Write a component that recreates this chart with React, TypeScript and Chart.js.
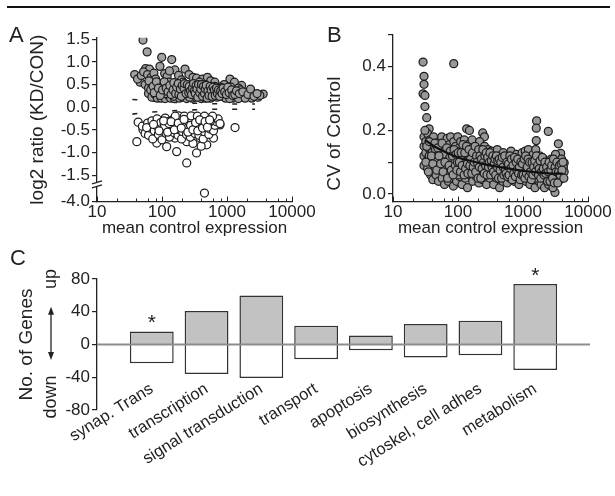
import React, { useEffect, useRef } from 'react';
import { Chart, registerables } from 'chart.js';
Chart.register(...registerables);

const FONT = "'Liberation Sans', Arial, Helvetica, sans-serif";
const INK = '#222';

// ---------- Panel A: log2 ratio vs mean control expression ----------
const aUpPoints: [number, number][] = [
  [51,1.48],[59,1.22],[99,1.1],[141,1.05],[38,0.72],[46,0.55],[56,0.85],[64,0.84],[93,0.9],[158,0.82],
  [226,0.84],[42,0.62],[48,0.7],[52,0.78],[60,0.72],[68,0.66],[72,0.58],[55,0.5],[66,0.48],[75,0.75],
  [80,0.62],[85,0.5],[110,0.74],[120,0.68],[130,0.8],[180,0.7],[200,0.6],[260,0.72],[300,0.66],[340,0.64],
  [420,0.62],[500,0.66],[560,0.58],[650,0.55],[1110,0.62],[1300,0.55],[1680,0.48],[3600,0.29],[2500,0.22],[1500,0.42],
  [900,0.5],[800,0.44],
  [62,0.42],[62,0.3],[70,0.36],[70,0.22],[70,0.5],[78,0.44],[78,0.28],[85,0.38],[85,0.2],[90,0.46],
  [90,0.3],[97,0.52],[97,0.34],[97,0.2],[105,0.42],[105,0.27],[112,0.48],[112,0.36],[112,0.19],[120,0.4],
  [120,0.3],[128,0.55],[128,0.44],[128,0.24],[135,0.38],[135,0.2],[145,0.5],[145,0.32],[145,0.42],[155,0.28],
  [155,0.46],[155,0.19],[165,0.36],[165,0.52],[175,0.42],[175,0.25],[175,0.32],[185,0.48],[185,0.38],[185,0.2],
  [195,0.3],[195,0.44],[210,0.55],[210,0.36],[210,0.22],[225,0.4],[225,0.28],[225,0.48],[240,0.34],[240,0.19],
  [240,0.44],[255,0.5],[255,0.38],[255,0.26],[270,0.3],[270,0.42],[290,0.36],[290,0.2],[290,0.5],[310,0.28],
  [310,0.44],[330,0.38],[330,0.22],[350,0.46],[350,0.32],[375,0.4],[375,0.25],[375,0.55],[400,0.35],[400,0.19],
  [430,0.42],[430,0.28],[460,0.5],[460,0.34],[460,0.2],[490,0.38],[490,0.26],[520,0.44],[520,0.3],[560,0.36],
  [560,0.2],[600,0.4],[600,0.27],[650,0.32],[650,0.46],[700,0.22],[700,0.36],[760,0.3],[820,0.4],[820,0.24],
  [880,0.3],[950,0.2],[1000,0.36],[1050,0.26],[1150,0.44],[1200,0.3],[1250,0.2],[1350,0.34],[1450,0.26],[1600,0.38],
  [1700,0.22],[1850,0.3],[2000,0.25],[2200,0.33],[2400,0.2],[2700,0.28],[3000,0.22],[3200,0.26],[1100,0.19],[1500,0.19],
  [1900,0.2],
  [100,0.45],[115,0.3],[140,0.46],[150,0.24],[160,0.4],[170,0.47],[190,0.34],[200,0.42],[215,0.3],[230,0.36],
  [250,0.42],[265,0.22],[280,0.46],[300,0.34],[320,0.4],[340,0.26],[360,0.38],[390,0.46],[410,0.3],[440,0.36],
  [470,0.42],[500,0.3],[540,0.4],[580,0.32],[620,0.36],[680,0.28],[720,0.42],[780,0.34],
  [63,0.58],[67,0.38],[73,0.46],[76,0.32],[82,0.56],[88,0.42],[94,0.26],[102,0.38],[108,0.56],[116,0.42],
  [124,0.34],[132,0.48],[138,0.28],[148,0.38],[152,0.54],[162,0.3],[168,0.44],[178,0.52],[182,0.28],[192,0.4],
  [198,0.24],[205,0.48],[218,0.42],[222,0.52],[235,0.3],[245,0.5],[258,0.32],[262,0.46],[275,0.36],[285,0.28],
  [295,0.42],[305,0.52],[315,0.36],[325,0.3],[335,0.48],[345,0.4],[355,0.22],[365,0.5],[380,0.32],[395,0.4],
  [405,0.5],[420,0.24],[435,0.46],[450,0.3],[465,0.4],[480,0.48],[495,0.2],[510,0.36],[530,0.26],[550,0.46],
  [570,0.38],[590,0.24],[610,0.44],[640,0.38],[660,0.26],[690,0.42],[710,0.3],[740,0.38],[770,0.24],[800,0.36],
  [840,0.3],[870,0.42],[920,0.34],[980,0.28],[1030,0.44],[1080,0.32],[1180,0.38],[1230,0.26],[1320,0.28],[1400,0.36],
  [1550,0.3],[1750,0.34],[2100,0.28],[2300,0.4],[2600,0.24],[2900,0.3],
];

const aDownPoints: [number, number][] = [
  [43,-0.33],[41,-0.76],[1330,-0.45],[240,-1.23],[168,-0.98],[340,-1.01],[450,-3.2],
  [69,-0.54],[51,-0.5],[83,-0.79],[118,-0.87],[100,-0.66],[158,-0.68],[240,-0.76],[385,-0.68],[488,-0.83],
  [620,-0.68],[780,-0.39],[400,-0.86],[300,-0.8],
  [50,-0.42],[55,-0.58],[60,-0.35],[62,-0.62],[66,-0.46],[70,-0.3],[72,-0.7],[76,-0.52],[80,-0.4],[84,-0.26],
  [88,-0.6],[92,-0.45],[96,-0.34],[100,-0.72],[104,-0.5],[108,-0.38],[112,-0.24],[116,-0.58],[120,-0.44],[125,-0.32],
  [130,-0.66],[135,-0.5],[140,-0.4],[146,-0.28],[152,-0.56],[158,-0.46],[164,-0.36],[170,-0.22],[176,-0.62],[182,-0.5],
  [188,-0.4],[195,-0.3],[200,-0.7],[208,-0.54],[215,-0.44],[222,-0.34],[230,-0.24],[238,-0.6],[246,-0.48],[255,-0.38],
  [264,-0.28],[272,-0.66],[282,-0.52],[292,-0.42],[302,-0.32],[312,-0.22],[322,-0.58],[334,-0.46],[346,-0.36],[358,-0.26],
  [370,-0.62],[385,-0.5],[400,-0.4],[415,-0.3],[430,-0.7],[448,-0.54],[466,-0.44],[485,-0.34],[505,-0.24],[525,-0.6],
  [548,-0.48],[570,-0.38],[595,-0.28],[620,-0.52],[650,-0.4],[690,-0.32],[730,-0.26],[780,-0.36],
  [110,-0.42],[128,-0.36],[150,-0.34],[172,-0.42],[190,-0.32],[212,-0.38],[235,-0.42],[260,-0.34],[285,-0.3],[310,-0.4],
  [340,-0.3],[365,-0.44],[395,-0.34],[440,-0.38],[480,-0.28],[520,-0.36],[560,-0.3],
  [180,-0.19],[220,-0.2],[280,-0.19],[350,-0.2],[450,-0.2],[600,-0.2],[160,-0.2],
  [58,-0.45],[74,-0.38],[90,-0.52],[106,-0.3],[122,-0.55],[138,-0.32],[155,-0.5],[178,-0.35],[198,-0.46],[218,-0.27],
  [250,-0.55],[275,-0.4],[298,-0.5],[328,-0.34],[355,-0.52],[380,-0.28],[420,-0.46],[460,-0.32],[500,-0.44],[540,-0.28],
];

const aThreshUp: [number, number][] = [[35,0.17],[69,0.14],[146,0.11],[300,0.09],[630,0.075],[1280,0.07],[2700,0.07]];
const aThreshDown: [number, number][] = [[35,-0.154],[63,-0.11],[146,-0.08],[300,-0.06],[630,-0.044],[1280,-0.044],[2700,-0.044]];

const aYTicks = [1.5, 1.0, 0.5, 0.0, -0.5, -1.0, -1.5, -4.0];
const logXTicks = [10, 100, 1000, 10000];
const logMinorSteps = [2, 4, 6, 8];

// axis break between -1.5 and -4.0
const BREAK_TOP = -1.5;
const BREAK_BOTTOM = -4.0;
const BREAK_SPAN = 0.58;
function mapA(v: number) {
  return v >= BREAK_TOP ? v : BREAK_TOP - ((BREAK_TOP - v) / (BREAK_TOP - BREAK_BOTTOM)) * BREAK_SPAN;
}

// ---------- Panel B: CV of control ----------
const bPoints: [number, number][] = [
  [29,0.415],[30,0.37],[30,0.345],[29,0.315],[31,0.31],[31,0.275],[33,0.24],[36,0.205],[86,0.41],[136,0.205],
  [150,0.2],[240,0.192],[255,0.18],[1620,0.23],[1600,0.207],[1600,0.168],[2450,0.197],[3500,0.158],[3800,0.128],[4300,0.098],
  [3100,0.005],
  [30,0.18],[30,0.15],[30,0.12],[30,0.09],[32,0.165],[32,0.13],[33,0.105],[34,0.19],[34,0.08],[35,0.145],
  [36,0.12],[37,0.17],[38,0.1],[38,0.06],[40,0.15],[40,0.13],[41,0.045],[42,0.18],[43,0.11],[44,0.085],
  [45,0.14],[46,0.06],[47,0.16],[48,0.12],[50,0.1],[50,0.04],
  [52,0.15],[53,0.075],[55,0.13],[56,0.18],[57,0.05],[58,0.11],[60,0.155],[61,0.09],[62,0.03],[64,0.14],
  [65,0.12],[66,0.065],[68,0.175],[70,0.1],[71,0.04],[72,0.13],[74,0.155],[75,0.08],[77,0.18],[78,0.11],
  [80,0.05],[81,0.14],[83,0.095],[85,0.025],[86,0.165],[88,0.12],[90,0.07],[92,0.15],[94,0.1],[95,0.04],
  [97,0.13],[99,0.18],
  [102,0.085],[104,0.145],[106,0.055],[108,0.12],[110,0.165],[113,0.1],[115,0.03],[117,0.14],[120,0.075],[122,0.115],
  [125,0.17],[128,0.09],[130,0.05],[133,0.13],[136,0.105],[140,0.02],[143,0.155],[146,0.08],[150,0.12],[154,0.06],
  [157,0.14],[160,0.095],[165,0.17],[168,0.04],[172,0.115],[176,0.075],[180,0.135],[185,0.1],[190,0.055],[195,0.15],
  [200,0.085],[205,0.12],[210,0.035],[215,0.165],[220,0.095],[226,0.07],[232,0.13],[238,0.045],[244,0.11],[250,0.08],
  [256,0.15],[262,0.06],[268,0.12],[275,0.03],[282,0.1],[290,0.14],[298,0.07],
  [305,0.115],[312,0.05],[320,0.09],[328,0.135],[336,0.065],[345,0.1],[354,0.03],[363,0.125],[372,0.08],[382,0.105],
  [392,0.05],[402,0.14],[412,0.075],[424,0.095],[436,0.02],[448,0.12],[460,0.065],[472,0.1],[485,0.04],[498,0.13],
  [512,0.08],[526,0.055],[540,0.11],[555,0.09],[570,0.035],[585,0.12],[600,0.07],[618,0.1],[636,0.05],[654,0.135],
  [672,0.085],[690,0.06],[710,0.11],[730,0.04],[750,0.095],[772,0.07],[795,0.125],[818,0.05],[842,0.09],[866,0.03],
  [890,0.11],[915,0.065],[940,0.08],[968,0.13],[995,0.05],
  [1020,0.095],[1050,0.07],[1080,0.135],[1110,0.04],[1140,0.1],[1175,0.06],[1210,0.14],[1245,0.085],[1280,0.03],[1320,0.11],
  [1360,0.07],[1400,0.05],[1440,0.125],[1480,0.09],[1530,0.02],[1570,0.14],[1650,0.06],[1700,0.1],[1750,0.04],[1800,0.12],
  [1850,0.075],[1900,0.03],[1960,0.09],[2020,0.055],[2080,0.11],[2140,0.02],[2200,0.08],[2270,0.045],[2340,0.1],[2410,0.06],
  [2480,0.03],[2560,0.085],[2640,0.05],[2720,0.11],[2800,0.07],[2890,0.02],[2980,0.09],[3070,0.055],[3160,0.125],[3260,0.04],
  [3360,0.08],[3460,0.06],[3570,0.1],[3680,0.045],[3800,0.075],[3920,0.11],[4050,0.06],[4180,0.085],[4300,0.07],
  [45,0.1],[60,0.125],[75,0.115],[90,0.105],[110,0.09],[130,0.1],[160,0.11],[190,0.085],[230,0.1],[270,0.09],
  [320,0.075],[380,0.09],[450,0.085],[520,0.1],[620,0.075],[750,0.08],[900,0.07],[1100,0.075],[1350,0.09],[1650,0.08],
  [2000,0.07],[2500,0.065],[3000,0.07],[3500,0.08],[100,0.06],[200,0.06],[400,0.06],[800,0.06],[1600,0.05],[3200,0.05],
  [31,0.2],[32,0.1],[33,0.15],[35,0.07],[36,0.165],[39,0.12],[41,0.095],[44,0.16],[47,0.075],[49,0.145],
  [51,0.12],[54,0.095],[57,0.16],[59,0.07],[63,0.1],[67,0.145],[69,0.05],[73,0.09],[76,0.135],[79,0.075],
  [82,0.12],[84,0.06],[87,0.14],[91,0.09],[93,0.125],[96,0.075],[98,0.1],[101,0.13],[105,0.1],[109,0.07],
  [112,0.13],[116,0.09],[119,0.155],[124,0.06],[127,0.13],[131,0.08],[135,0.15],[139,0.095],[142,0.065],[148,0.14],
  [152,0.09],[156,0.11],[163,0.065],[167,0.13],[171,0.085],[178,0.1],[183,0.15],[187,0.07],[193,0.12],[198,0.1],
  [203,0.05],[208,0.14],[213,0.085],[218,0.12],[224,0.05],[229,0.11],[235,0.08],[241,0.14],[247,0.1],[253,0.065],
  [259,0.12],[265,0.09],[272,0.13],[279,0.06],[286,0.115],[294,0.085],[302,0.1],[310,0.13],[318,0.06],[326,0.105],
  [334,0.085],[343,0.12],[352,0.07],[361,0.095],[370,0.11],[380,0.06],[390,0.12],[400,0.085],[410,0.105],[420,0.05],
  [432,0.11],[444,0.075],[456,0.1],[468,0.05],[480,0.115],[494,0.085],[508,0.06],[522,0.12],[536,0.075],[550,0.065],
  [565,0.1],[580,0.055],[596,0.095],[612,0.06],[628,0.12],[645,0.08],[663,0.11],[681,0.045],[700,0.09],[720,0.065],
  [740,0.115],[762,0.055],[784,0.1],[806,0.075],[830,0.11],[855,0.065],[880,0.085],[905,0.045],[930,0.1],[955,0.06],
  [982,0.095],[1010,0.06],[1040,0.11],[1070,0.05],[1100,0.12],[1130,0.065],[1160,0.085],[1195,0.11],[1230,0.055],[1265,0.1],
  [1300,0.07],[1340,0.045],[1380,0.1],[1420,0.06],[1460,0.085],[1510,0.105],[1560,0.07],[1610,0.12],[1680,0.09],[1730,0.06],
  [1780,0.08],[1830,0.105],[1880,0.05],[1930,0.07],[1990,0.115],[2050,0.08],[2110,0.06],[2170,0.1],[2240,0.065],[2310,0.085],
  [2380,0.04],[2450,0.07],[2520,0.1],[2600,0.04],[2680,0.075],[2760,0.09],[2850,0.05],[2940,0.11],[3030,0.035],[3120,0.085],
  [3220,0.07],[3320,0.1],[3420,0.035],[3520,0.07],[3630,0.09],[3740,0.06],[3860,0.095],[3980,0.075],[4120,0.1],[4250,0.05],
];
const bFit: [number, number][] = [[31,0.17],[45,0.148],[70,0.128],[100,0.115],[200,0.099],[400,0.086],[800,0.076],[1500,0.069],[2500,0.065],[4100,0.064]];
const bYTicks = [0, 0.1, 0.2, 0.3, 0.4, 0.5];
const bYTickLabels = ['0.0', '', '0.2', '', '0.4', ''];

// ---------- Panel C: GO categories ----------
const categories = ['synap. Trans', 'transcription', 'signal transduction', 'transport', 'apoptosis', 'biosynthesis', 'cytoskel, cell adhes', 'metabolism'];
const upCounts = [16, 41, 60, 23, 11, 25, 29, 74];
const downCounts = [-23, -36, -41, -18, -7, -16, -13, -31];
const significant = [true, false, false, false, false, false, false, true];
const cYTicks = [80, 40, 0, -40, -80];

const toXY = (arr: [number, number][], f: (v: number) => number = (v) => v) => arr.map(([x, y]) => ({ x, y: f(y) }));

function inwardLogTicks(id: string) {
  return {
    id,
    afterDraw(chart: any) {
      const xs = chart.scales.x;
      const { ctx, chartArea } = chart;
      const b = chartArea.bottom;
      ctx.save();
      ctx.strokeStyle = INK;
      ctx.lineWidth = 1;
      const tick = (v: number, len: number) => {
        const px = Math.round(xs.getPixelForValue(v)) + 0.5;
        ctx.beginPath();
        ctx.moveTo(px, b);
        ctx.lineTo(px, b - len);
        ctx.stroke();
      };
      logXTicks.forEach((d, i) => {
        tick(d, 5);
        if (i < logXTicks.length - 1) logMinorSteps.forEach((m) => tick(d * m, 3));
      });
      ctx.restore();
    },
  };
}

const aBreakPlugin = {
  id: 'aBreak',
  afterDraw(chart: any) {
    const { ctx, chartArea } = chart;
    const ys = chart.scales.y;
    const yb = (ys.getPixelForValue(mapA(-1.5)) + ys.getPixelForValue(mapA(-4.0))) / 2 - 4;
    const xl = chartArea.left;
    ctx.save();
    ctx.fillStyle = '#fff';
    ctx.fillRect(xl - 2, yb - 2, 4, 4);
    ctx.strokeStyle = INK;
    ctx.lineWidth = 1.3;
    [-2, 2].forEach((d) => {
      ctx.beginPath();
      ctx.moveTo(xl - 5, yb + d + 1.5);
      ctx.lineTo(xl + 5, yb + d - 1.5);
      ctx.stroke();
    });
    ctx.restore();
  },
};

// B's y title sits lower than the axis centre in the reference
const bTitlePlugin = {
  id: 'bTitle',
  afterDraw(chart: any) {
    const { ctx, chartArea } = chart;
    const ys = chart.scales.y;
    ctx.save();
    ctx.fillStyle = INK;
    ctx.font = `19px ${FONT}`;
    ctx.textAlign = 'center';
    ctx.textBaseline = 'middle';
    ctx.translate(chartArea.left - 58, ys.getPixelForValue(0.19));
    ctx.rotate(-Math.PI / 2);
    ctx.fillText('CV of Control', 0, 0);
    ctx.restore();
  },
};

const cDecorPlugin = {
  id: 'cDecor',
  afterDatasetsDraw(chart: any) {
    const { ctx, chartArea } = chart;
    const xs = chart.scales.x;
    const ys = chart.scales.y;
    const y0 = ys.getPixelForValue(0);
    ctx.save();
    ctx.strokeStyle = '#8c8c8c';
    ctx.lineWidth = 2;
    ctx.beginPath();
    ctx.moveTo(chartArea.left, y0);
    ctx.lineTo(chartArea.right, y0);
    ctx.stroke();

    ctx.fillStyle = INK;
    ctx.font = `21px ${FONT}`;
    ctx.textAlign = 'center';
    ctx.textBaseline = 'middle';
    significant.forEach((s, i) => {
      if (!s) return;
      const px = xs.getPixelForValue(i + 1);
      const py = ys.getPixelForValue(upCounts[i]);
      ctx.fillText('*', px, py - 8);
    });

    // up / down annotation with double arrow
    const ax = chartArea.left - 46;
    ctx.font = `18px ${FONT}`;
    const drawRot = (t: string, yv: number) => {
      ctx.save();
      ctx.translate(ax, ys.getPixelForValue(yv));
      ctx.rotate(-Math.PI / 2);
      ctx.fillText(t, 0, 0);
      ctx.restore();
    };
    drawRot('up', 80);
    drawRot('down', -64);
    const at = ys.getPixelForValue(46);
    const ab = ys.getPixelForValue(-19);
    ctx.strokeStyle = INK;
    ctx.lineWidth = 1.3;
    ctx.beginPath();
    ctx.moveTo(ax, at + 3);
    ctx.lineTo(ax, ab - 3);
    ctx.stroke();
    ctx.beginPath();
    ctx.moveTo(ax, at);
    ctx.lineTo(ax - 3, at + 8);
    ctx.lineTo(ax + 3, at + 8);
    ctx.closePath();
    ctx.fill();
    ctx.beginPath();
    ctx.moveTo(ax, ab);
    ctx.lineTo(ax - 3, ab - 8);
    ctx.lineTo(ax + 3, ab - 8);
    ctx.closePath();
    ctx.fill();
    ctx.restore();
  },
};

const tickFont = { family: FONT, size: 17 };
const xTitleFont = { family: FONT, size: 17 };
const yTitleFont = { family: FONT, size: 19 };

function logXAxis(): any {
  return {
    type: 'logarithmic',
    min: 10,
    max: 10000,
    afterBuildTicks: (s: any) => {
      s.ticks = logXTicks.map((v) => ({ value: v, major: true }));
    },
    afterFit: (s: any) => {
      s.height = 48.5;
    },
    ticks: { font: tickFont, color: INK, padding: 1, maxRotation: 0, autoSkip: false, callback: (v: any) => String(v) },
    grid: { display: false, drawTicks: false },
    border: { display: true, color: INK, width: 1.3 },
    title: { display: true, text: 'mean control expression', font: xTitleFont, color: INK, padding: { top: 0, bottom: 11.5 } },
  };
}

export default function App() {
  const aRef = useRef<HTMLCanvasElement>(null);
  const bRef = useRef<HTMLCanvasElement>(null);
  const cRef = useRef<HTMLCanvasElement>(null);

  useEffect(() => {
    Chart.defaults.font.family = FONT;
    Chart.defaults.color = INK;

    const chartA = new Chart(aRef.current as HTMLCanvasElement, {
      type: 'scatter',
      data: {
        datasets: [
          { data: toXY(aUpPoints), pointRadius: 4, backgroundColor: '#a2a2a2', borderColor: '#1e1e1e', borderWidth: 1.25 },
          { data: toXY(aDownPoints, mapA), pointRadius: 4, backgroundColor: '#ffffff', borderColor: '#1e1e1e', borderWidth: 1.25 },
          { type: 'line', data: toXY(aThreshUp), showLine: true, pointRadius: 0, borderColor: INK, borderWidth: 1.6, borderDash: [5, 15] },
          { type: 'line', data: toXY(aThreshDown), showLine: true, pointRadius: 0, borderColor: INK, borderWidth: 1.6, borderDash: [5, 15] },
        ] as any,
      },
      options: {
        responsive: false,
        animation: false,
        layout: { padding: { left: 0, right: 48, top: 37.8, bottom: 0 } },
        plugins: { legend: { display: false }, tooltip: { enabled: false } },
        scales: {
          x: logXAxis(),
          y: {
            type: 'linear',
            min: mapA(-4.0),
            max: 1.53,
            afterBuildTicks: (s: any) => {
              s.ticks = aYTicks.map((t) => ({ value: mapA(t) }));
            },
            afterFit: (s: any) => {
              s.width = 97;
            },
            ticks: {
              font: tickFont,
              color: INK,
              padding: 2,
              autoSkip: false,
              callback: (v: any) => {
                const t = aYTicks.find((tt) => Math.abs(mapA(tt) - v) < 1e-6);
                return t === undefined ? '' : t.toFixed(1);
              },
            },
            grid: { drawOnChartArea: false, drawTicks: true, tickLength: 5, color: INK, lineWidth: 1.2 },
            border: { display: true, color: INK, width: 1.3 },
            title: { display: true, text: 'log2 ratio (KD/CON)', font: yTitleFont, color: INK, padding: { top: 26.6, bottom: 0 } },
          },
        },
      } as any,
      plugins: [inwardLogTicks('aTicks'), aBreakPlugin],
    });

    const chartB = new Chart(bRef.current as HTMLCanvasElement, {
      type: 'scatter',
      data: {
        datasets: [
          { type: 'line', data: toXY(bFit), showLine: true, pointRadius: 0, borderColor: '#111', borderWidth: 2.2, cubicInterpolationMode: 'monotone' },
          { data: toXY(bPoints), pointRadius: 4, backgroundColor: '#989898', borderColor: '#1e1e1e', borderWidth: 1.25 },
        ] as any,
      },
      options: {
        responsive: false,
        animation: false,
        layout: { padding: { left: 0, right: 27, top: 35, bottom: 0 } },
        plugins: { legend: { display: false }, tooltip: { enabled: false } },
        scales: {
          x: logXAxis(),
          y: {
            type: 'linear',
            min: -0.0234,
            max: 0.5,
            afterBuildTicks: (s: any) => {
              s.ticks = bYTicks.map((t) => ({ value: t }));
            },
            afterFit: (s: any) => {
              s.width = 93;
            },
            ticks: {
              font: tickFont,
              color: INK,
              padding: 2,
              autoSkip: false,
              callback: (_v: any, i: number) => bYTickLabels[i],
            },
            grid: { drawOnChartArea: false, drawTicks: true, tickLength: 5, color: INK, lineWidth: 1.2 },
            border: { display: true, color: INK, width: 1.3 },
            title: { display: false },
          },
        },
      } as any,
      plugins: [inwardLogTicks('bTicks'), bTitlePlugin],
    });

    const chartC = new Chart(cRef.current as HTMLCanvasElement, {
      type: 'bar',
      data: {
        labels: ['', ...categories, ''],
        datasets: [
          { label: 'up', data: [null, ...upCounts, null], backgroundColor: '#c2c2c2', borderColor: '#333', borderWidth: 1.5 },
          { label: 'down', data: [null, ...downCounts, null], backgroundColor: '#ffffff', borderColor: '#333', borderWidth: 1.5 },
        ] as any,
      },
      options: {
        responsive: false,
        animation: false,
        layout: { padding: { left: 0, right: 25, top: 34, bottom: 86 } },
        plugins: { legend: { display: false }, tooltip: { enabled: false } },
        datasets: { bar: { categoryPercentage: 1, barPercentage: 0.8 } },
        scales: {
          x: {
            type: 'category',
            offset: false,
            stacked: true,
            position: { y: -35 },
            afterFit: (s: any) => {
              s.height = 0;
            },
            ticks: { font: { family: FONT, size: 16.5 }, color: INK, padding: 6, autoSkip: false, minRotation: 32, maxRotation: 32 },
            grid: { display: false, drawTicks: false },
            border: { display: false },
          },
          y: {
            type: 'linear',
            stacked: true,
            min: -80,
            max: 80,
            afterBuildTicks: (s: any) => {
              s.ticks = cYTicks.map((t) => ({ value: t }));
            },
            afterFit: (s: any) => {
              s.width = 97;
            },
            ticks: { font: tickFont, color: INK, padding: 2, autoSkip: false, callback: (v: any) => String(v) },
            grid: { drawOnChartArea: false, drawTicks: true, tickLength: 5, color: INK, lineWidth: 1.2 },
            border: { display: true, color: INK, width: 1.3 },
            title: { display: true, text: 'No. of Genes', font: yTitleFont, color: INK, padding: { top: 15, bottom: 0 } },
          },
        },
      } as any,
      plugins: [cDecorPlugin],
    });

    return () => {
      chartA.destroy();
      chartB.destroy();
      chartC.destroy();
    };
  }, []);

  const letter = (t: string, left: number, top: number) => (
    <div style={{ position: 'absolute', left, top, fontSize: 22, lineHeight: '22px', color: INK, fontFamily: FONT }}>{t}</div>
  );

  return (
    <div style={{ position: 'fixed', left: 0, top: 0, width: 615, height: 496, background: '#fff', overflow: 'hidden' }}>
      <div style={{ position: 'absolute', left: 7, top: 6, width: 603, height: 2, background: '#111' }} />
      <canvas ref={cRef} width={615} height={251} style={{ position: 'absolute', left: 0, top: 245 }} />
      <canvas ref={aRef} width={340} height={250} style={{ position: 'absolute', left: 0, top: 0 }} />
      <canvas ref={bRef} width={315} height={250} style={{ position: 'absolute', left: 300, top: 0 }} />
      {letter('A', 9, 24)}
      {letter('B', 327, 24)}
      {letter('C', 10, 247)}
    </div>
  );
}
